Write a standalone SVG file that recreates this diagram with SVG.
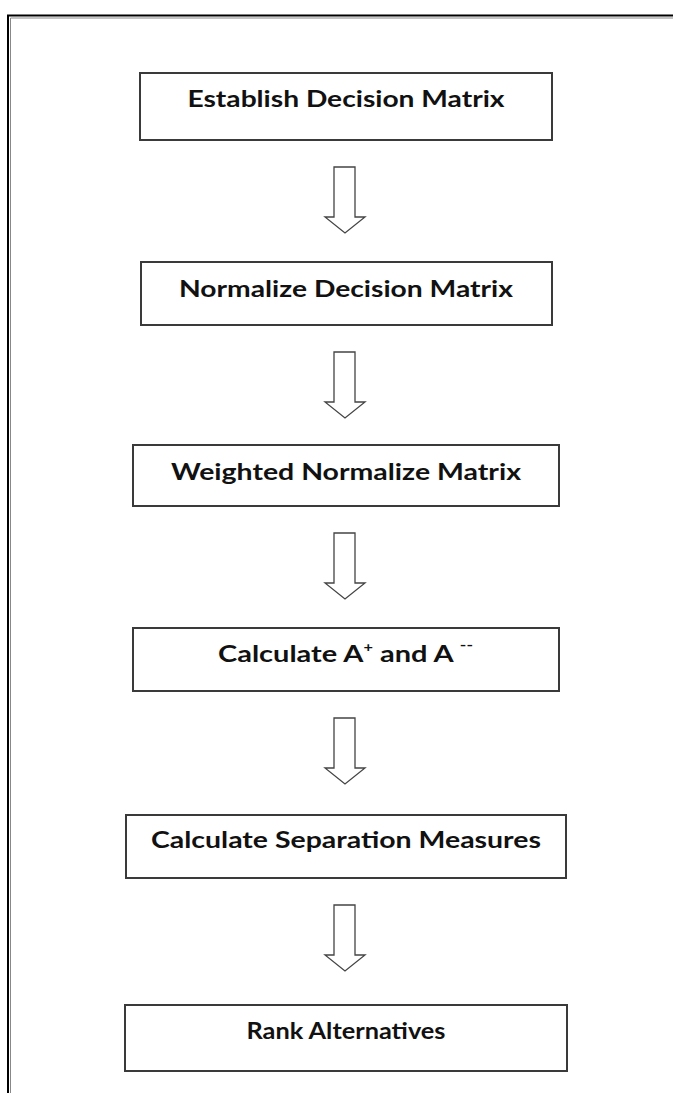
<svg xmlns="http://www.w3.org/2000/svg" width="673" height="1093" viewBox="0 0 673 1093">
<style>
.box{fill:#fff;stroke:#3a3a3a;stroke-width:2}
.lbl{font-family:Lato,"Open Sans","Liberation Sans",sans-serif;font-weight:bold;font-size:23px;fill:#111;text-anchor:middle}
.arr{fill:#fff;stroke:#444;stroke-width:1.3;stroke-linejoin:miter}
</style>
<rect width="673" height="1093" fill="#fff"/>
<g id="frame" fill="none">
<polyline points="8,1093 8,15.5 673,15.5" stroke="#000" stroke-width="2"/>
<polyline points="10.5,1093 10.5,18 673,18" stroke="#888" stroke-width="1"/>
</g>
<g id="connectors">
<path class="arr" d="M334,167 H355 V217 H365 L345,233 L325,217 H334 Z"/>
<path class="arr" d="M334,352 H355 V402 H365 L345,418 L325,402 H334 Z"/>
<path class="arr" d="M334,533 H355 V583 H365 L345,599 L325,583 H334 Z"/>
<path class="arr" d="M334,718 H355 V768 H365 L345,784 L325,768 H334 Z"/>
<path class="arr" d="M334,905 H355 V955 H365 L345,971 L325,955 H334 Z"/>
</g>
<g id="n1">
<rect class="box" x="140" y="73" width="412" height="67"/>
<text class="lbl" x="346" y="107" textLength="317" lengthAdjust="spacingAndGlyphs">Establish Decision Matrix</text>
</g>
<g id="n2">
<rect class="box" x="141" y="262" width="411" height="63"/>
<text class="lbl" x="346" y="297" textLength="334" lengthAdjust="spacingAndGlyphs">Normalize Decision Matrix</text>
</g>
<g id="n3">
<rect class="box" x="133" y="445" width="426" height="61"/>
<text class="lbl" x="346" y="480" textLength="350" lengthAdjust="spacingAndGlyphs">Weighted Normalize Matrix</text>
</g>
<g id="n4">
<rect class="box" x="133" y="628" width="426" height="63"/>
<text class="lbl" x="218" y="662" style="text-anchor:start" textLength="255" lengthAdjust="spacingAndGlyphs">Calculate A<tspan font-size="13" dy="-10">+</tspan><tspan dy="10"> and A </tspan><tspan font-size="14" dy="-12">--</tspan></text>
</g>
<g id="n5">
<rect class="box" x="126" y="815" width="440" height="63"/>
<text class="lbl" x="346" y="848" textLength="390" lengthAdjust="spacingAndGlyphs">Calculate Separation Measures</text>
</g>
<g id="n6">
<rect class="box" x="125" y="1005" width="442" height="66"/>
<text class="lbl" x="346" y="1039" textLength="199" lengthAdjust="spacingAndGlyphs">Rank Alternatives</text>
</g>
</svg>
